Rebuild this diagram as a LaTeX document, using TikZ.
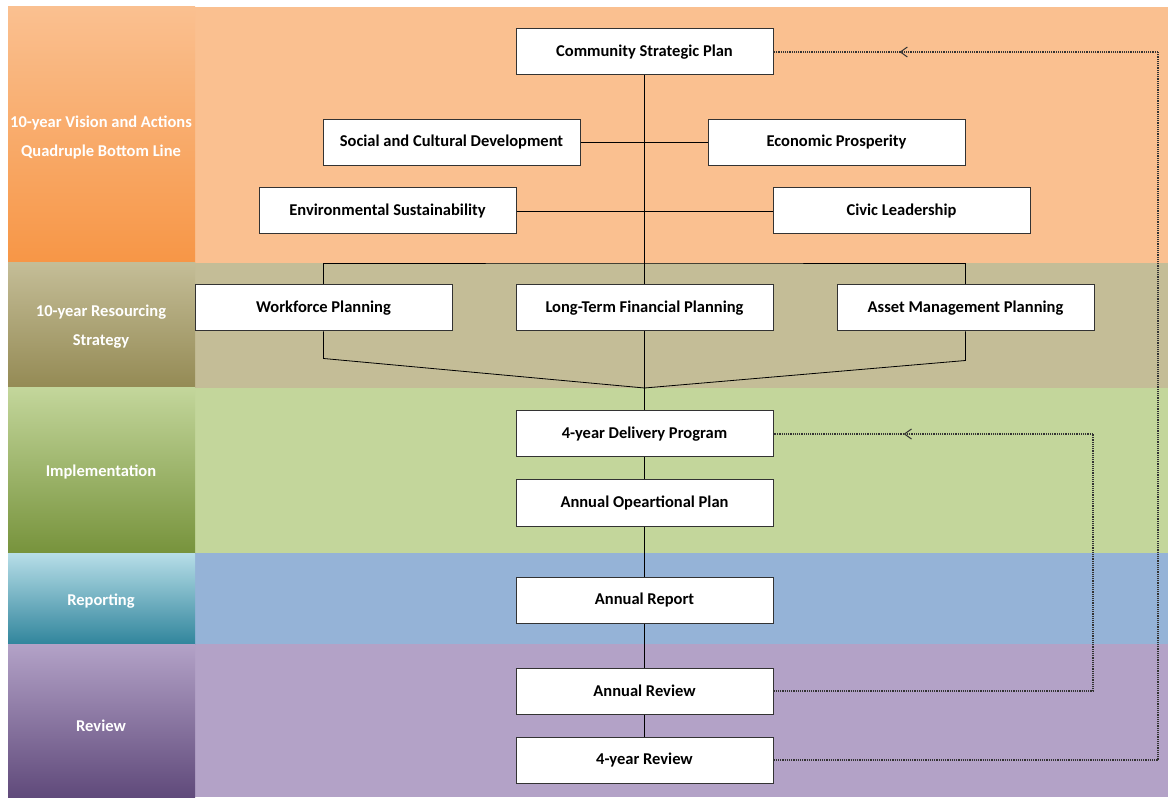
\documentclass[tikz,border=0pt]{standalone}
\usepackage{fontspec}
\setmainfont{Carlito}
\usetikzlibrary{decorations.markings}
\definecolor{orgR}{RGB}{250,192,144}
\definecolor{orgT}{RGB}{250,192,144}
\definecolor{orgB}{RGB}{247,150,70}
\definecolor{tanR}{RGB}{196,189,151}
\definecolor{tanB}{RGB}{148,138,84}
\definecolor{grnR}{RGB}{195,214,155}
\definecolor{grnB}{RGB}{119,147,60}
\definecolor{bluR}{RGB}{149,179,215}
\definecolor{bluT}{RGB}{183,222,232}
\definecolor{bluB}{RGB}{49,133,156}
\definecolor{purR}{RGB}{179,162,199}
\definecolor{purB}{RGB}{96,74,123}
\tikzset{box/.style={draw=black!80, line width=1pt, fill=white, minimum width=257pt, minimum height=46pt, inner sep=0pt, font=\bfseries\fontsize{16.5}{19}\selectfont}}
\tikzset{lbl/.style={text=white, align=center, font=\bfseries\fontsize{16.5}{29}\selectfont}}
\tikzset{ln/.style={draw=black, line width=0.8pt}}
\tikzset{fb/.style={densely dotted, line width=1.2pt, black!80}}
\tikzset{backtip/.style={postaction={decorate, decoration={markings, mark=at position #1 with {\draw[solid, line width=1pt] (-7pt,5pt) -- (0pt,0pt) -- (-7pt,-5pt);}}}}}

\begin{document}
\begin{tikzpicture}[x=1pt,y=-1pt]
    \useasboundingbox (0,0) rectangle (1168,799);
    % bands
    \fill[orgR] (195,7) rectangle (1168,263);
    \fill[tanR] (195,263) rectangle (1168,388);
    \fill[grnR] (195,388) rectangle (1168,553);
    \fill[bluR] (195,553) rectangle (1168,644);
    \fill[purR] (195,644) rectangle (1168,797);
    \shade[top color=orgT, bottom color=orgB] (8,7) rectangle (195,263);
    \shade[top color=tanR, bottom color=tanB] (8,263) rectangle (195,388);
    \shade[top color=grnR, bottom color=grnB] (8,388) rectangle (195,553);
    \shade[top color=bluT, bottom color=bluB] (8,553) rectangle (195,644);
    \shade[top color=purR, bottom color=purB] (8,644) rectangle (195,797);
    \node[lbl] (l1) at (101,137) {10-year Vision and Actions\\Quadruple Bottom Line};
    \node[lbl] (l2) at (101,327) {10-year Resourcing\\Strategy};
    \node[lbl] (l3) at (101,472) {Implementation};
    \node[lbl] (l4) at (101,601) {Reporting};
    \node[lbl] (l5) at (101,726) {Review};
    % boxes
    \node[box] (csp) at (644.5,52) {Community Strategic Plan};
    \node[box] (soc) at (451.5,142.5) {Social and Cultural Development};
    \node[box] (eco) at (836.5,142.5) {Economic Prosperity};
    \node[box] (env) at (387.5,211) {Environmental Sustainability};
    \node[box] (civ) at (901.5,211) {Civic Leadership};
    \node[box] (wfp) at (323.5,308) {Workforce Planning};
    \node[box] (ltfp) at (644.5,308) {Long-Term Financial Planning};
    \node[box] (amp) at (965.5,308) {Asset Management Planning};
    \node[box] (dp) at (644.5,434) {4-year Delivery Program};
    \node[box] (aop) at (644.5,503) {Annual Opeartional Plan};
    \node[box] (ar) at (644.5,600) {Annual Report};
    \node[box] (rev) at (644.5,691) {Annual Review};
    \node[box] (rev4) at (644.5,760) {4-year Review};
    \coordinate (top) at (644.5,263);
    \coordinate (join) at (644.5,388);
    \coordinate (c1) at (1158,52);
    \coordinate (c2) at (1093,434);
    % connectors
    \path[ln] (csp) -- (ltfp);
    \path[ln] (soc) -- (eco);
    \path[ln] (env) -- (civ);
    \path[ln] (wfp.north) |- (top) -| (amp.north);
    \path[ln] (wfp.south) -- ++(0,27) -- (join);
    \path[ln] (amp.south) -- ++(0,29) -- (join);
    \path[ln] (ltfp) -- (dp);
    \path[ln] (dp) -- (aop) (aop) -- (ar) (ar) -- (rev) (rev) -- (rev4);
    % feedback
    \draw[fb] (rev4.east) -| (c1);
    \draw[fb, backtip=0.67] (c1) -- (csp.east);
    \draw[fb] (rev.east) -| (c2);
    \draw[fb, backtip=0.59] (c2) -- (dp.east);
\end{tikzpicture}
\end{document}
